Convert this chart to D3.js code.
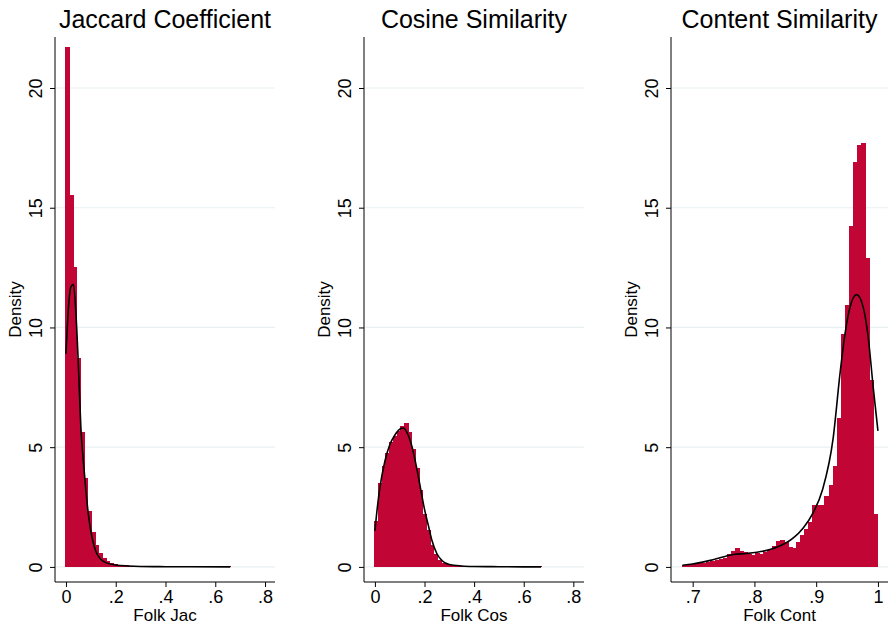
<!DOCTYPE html>
<html lang="en">
<head>
  <meta charset="UTF-8">
  <title>Folk similarity histograms</title>
  <script src="https://d3js.org/d3.v7.min.js"></script>
  <style>
    body { margin: 0; background: #fff; }
    text { font-family: "Liberation Sans", Arial, sans-serif; fill: #000; }
  </style>
</head>
<body>
  <svg width="890" height="626"></svg>

  <script>
    // Panel titles and axis titles
    const titles = ["Jaccard Coefficient", "Cosine Similarity", "Content Similarity"];
    const xTitles = ["Folk Jac", "Folk Cos", "Folk Cont"];

    // Histogram bin ranges and densities
    const jacRange = [0, 0.662];
    const jacDensity = [21.7, 15.5, 12.5, 8.7, 5.6, 3.7, 2.3, 1.45, 0.9, 0.55,
      0.37, 0.23, 0.15, 0.1, 0.07, 0.05, 0.04, 0.035, 0.03, 0.025,
      0.02, 0.02, 0.015, 0.015, 0.012, 0.01, 0.01, 0.01, 0.008, 0.008,
      0.006, 0.006, 0.005, 0.005, 0.004, 0.004, 0.004, 0.003, 0.003, 0.003,
      0, 0.003, 0, 0, 0.003];

    const cosRange = [0, 0.67];
    const cosDensity = [1.9, 3.5, 4.2, 4.75, 5.2, 5.45, 5.65, 5.85, 6.0, 5.6,
      4.9, 4.1, 3.2, 2.2, 1.5, 0.9, 0.5, 0.28, 0.15, 0.09,
      0.06, 0.045, 0.035, 0.03, 0.025, 0.02, 0.018, 0.015, 0.012, 0.01,
      0.01, 0.008, 0.008, 0.006, 0.006, 0.005, 0.005, 0.004, 0.004, 0.004,
      0.003, 0.003, 0, 0, 0.003];

    const contRange = [0.6834, 1.0];
    const contDensity = [0.06, 0.08, 0.1, 0.11, 0.13, 0.16, 0.19, 0.21, 0.25, 0.29,
      0.35, 0.5, 0.65, 0.78, 0.65, 0.6, 0.5, 0.48, 0.55, 0.5,
      0.6, 0.7, 0.85, 1.05, 1.1, 1.0, 0.8, 0.75, 1.0, 1.3,
      1.55, 1.85, 2.55, 2.55, 2.55, 2.95, 3.4, 4.2, 6.2, 9.7,
      10.9, 14.2, 16.9, 17.6, 17.7, 12.9, 7.8, 2.2];

    // Kernel density curves [x, density]
    const jacKde = [[0, 8.9], [0.01, 10.8], [0.02, 11.7], [0.03, 11.8], [0.04, 10.6],
      [0.05, 8.4], [0.06, 5.8], [0.07, 4.4], [0.08, 3.2], [0.09, 2.2], [0.1, 1.5],
      [0.12, 0.65], [0.14, 0.32], [0.16, 0.18], [0.2, 0.08], [0.25, 0.04],
      [0.3, 0.02], [0.4, 0.01], [0.5, 0.005], [0.66, 0]];

    const cosKde = [[0, 1.5], [0.01, 2.5], [0.02, 3.3], [0.04, 4.4], [0.06, 5.1],
      [0.08, 5.5], [0.1, 5.75], [0.115, 5.8], [0.13, 5.6], [0.15, 5.0],
      [0.165, 4.3], [0.18, 3.5], [0.2, 2.4], [0.215, 1.75], [0.23, 1.1],
      [0.25, 0.55], [0.27, 0.27], [0.3, 0.1], [0.35, 0.04], [0.4, 0.02],
      [0.5, 0.01], [0.67, 0]];

    const contKde = [[0.6834, 0.07], [0.7, 0.12], [0.733, 0.3], [0.766, 0.52],
      [0.787, 0.56], [0.82, 0.69], [0.841, 0.87], [0.863, 1.21], [0.879, 1.63],
      [0.895, 2.26], [0.91, 3.2], [0.9276, 5.4], [0.9385, 8.05], [0.9466, 9.72],
      [0.9547, 10.84], [0.9655, 11.37], [0.9762, 10.84], [0.9843, 9.58],
      [0.9924, 7.49], [1.0, 5.68]];

    // Tick values and labels
    const yTicks = [0, 5, 10, 15, 20];
    const simTicks = [0, 0.2, 0.4, 0.6, 0.8];
    const simTickLabels = ["0", ".2", ".4", ".6", ".8"];
    const contTicks = [0.7, 0.8, 0.9, 1.0];
    const contTickLabels = [".7", ".8", ".9", "1"];

    const barColor = "#c10534";
    const gridColor = "#e8f0f2";

    const svg = d3.select("svg");
    svg.append("rect").attr("width", 890).attr("height", 626).attr("fill", "#fff");

    const panels = [
      { left: 55, right: 275, xDomain: [-0.044, 0.84], range: jacRange, dens: jacDensity,
        kde: jacKde, ticks: simTicks, labels: simTickLabels },
      { left: 364, right: 584, xDomain: [-0.044, 0.843], range: cosRange, dens: cosDensity,
        kde: cosKde, ticks: simTicks, labels: simTickLabels },
      { left: 671, right: 888, xDomain: [0.6649, 1.0163], range: contRange, dens: contDensity,
        kde: contKde, ticks: contTicks, labels: contTickLabels }
    ];

    const plotTop = 37, plotBottom = 582;
    const y = d3.scaleLinear().domain([-0.63, 22.13]).range([plotBottom, plotTop]);

    panels.forEach((p, i) => {
      const x = d3.scaleLinear().domain(p.xDomain).range([p.left, p.right]);
      const g = svg.append("g");

      // gridlines
      g.selectAll(".grid")
        .data(yTicks)
        .enter().append("line")
        .attr("x1", p.left + 1).attr("x2", p.right)
        .attr("y1", d => y(d)).attr("y2", d => y(d))
        .attr("stroke", gridColor).attr("stroke-width", 1.2);

      // histogram bars
      const w = (p.range[1] - p.range[0]) / p.dens.length;
      const bins = p.dens.map((d, k) => ({ x0: p.range[0] + k * w, x1: p.range[0] + (k + 1) * w, d: d }));
      g.selectAll(".bar")
        .data(bins.filter(b => b.d > 0))
        .enter().append("rect")
        .attr("x", b => x(b.x0))
        .attr("width", b => x(b.x1) - x(b.x0))
        .attr("y", b => y(b.d))
        .attr("height", b => y(0) - y(b.d))
        .attr("fill", barColor)
        .attr("stroke", barColor)
        .attr("stroke-width", 1)
        .attr("shape-rendering", "crispEdges");

      // kernel density line
      const line = d3.line()
        .x(d => x(d[0]))
        .y(d => y(d[1]))
        .curve(d3.curveMonotoneX);
      g.append("path")
        .datum(p.kde)
        .attr("d", line)
        .attr("fill", "none")
        .attr("stroke", "#000")
        .attr("stroke-width", 1.6);

      // y axis
      const yAxis = g.append("g")
        .attr("transform", `translate(${p.left},0)`)
        .call(d3.axisLeft(y).tickValues(yTicks).tickSize(5).tickPadding(0).tickFormat(d3.format("d")));
      yAxis.select(".domain").attr("d", `M0,${plotTop}V${plotBottom}`).attr("stroke", "#000");
      yAxis.selectAll(".tick line").attr("stroke", "#000");
      yAxis.selectAll(".tick text")
        .attr("transform", "rotate(-90)")
        .attr("x", 0).attr("y", -13)
        .attr("dy", 0)
        .attr("text-anchor", "middle")
        .style("font-size", "18px");

      // x axis
      const xAxis = g.append("g")
        .attr("transform", `translate(0,${plotBottom})`)
        .call(d3.axisBottom(x).tickValues(p.ticks).tickSize(5).tickPadding(3)
          .tickFormat((d, k) => p.labels[k]));
      xAxis.select(".domain").attr("d", `M${p.left},0H${p.right}`).attr("stroke", "#000");
      xAxis.selectAll(".tick line").attr("stroke", "#000");
      xAxis.selectAll(".tick text").style("font-size", "18px");

      // titles
      g.append("text")
        .attr("x", (p.left + p.right) / 2).attr("y", 28)
        .attr("text-anchor", "middle")
        .style("font-size", "25px")
        .text(titles[i]);

      g.append("text")
        .attr("x", (p.left + p.right) / 2).attr("y", 621)
        .attr("text-anchor", "middle")
        .style("font-size", "17px")
        .text(xTitles[i]);

      g.append("text")
        .attr("transform", `translate(${p.left - 34},${(plotTop + plotBottom) / 2}) rotate(-90)`)
        .attr("text-anchor", "middle")
        .style("font-size", "17px")
        .text("Density");
    });
  </script>
</body>
</html>
